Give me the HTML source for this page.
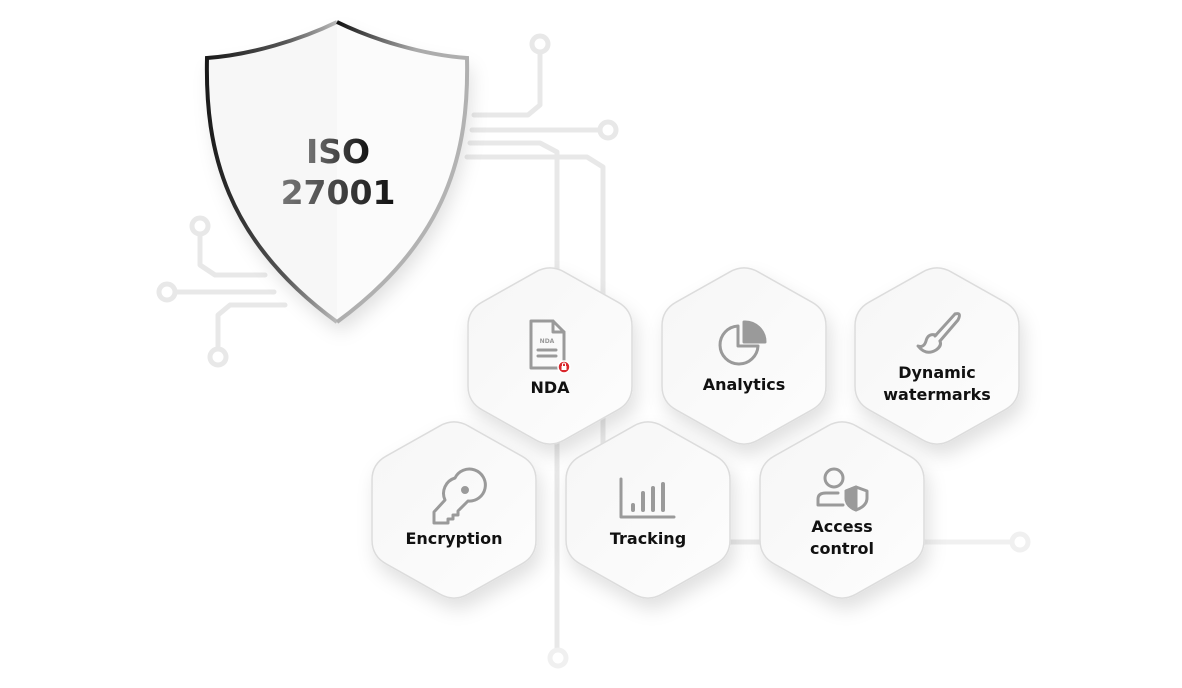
<!DOCTYPE html>
<html><head><meta charset="utf-8">
<style>
html,body{margin:0;padding:0;background:#fff;}
svg{display:block;}
text{font-family:"DejaVu Sans","Liberation Sans",sans-serif;font-weight:bold;}
</style></head>
<body>
<svg id="s" width="1182" height="688" viewBox="0 0 1182 688" xmlns="http://www.w3.org/2000/svg">
<defs>
  <linearGradient id="shL" x1="0" y1="0" x2="1" y2="0">
    <stop offset="0" stop-color="#1a1a1a"/><stop offset="0.6" stop-color="#555"/><stop offset="1" stop-color="#bbb"/>
  </linearGradient>
  <linearGradient id="shR" x1="0" y1="0" x2="1" y2="1">
    <stop offset="0" stop-color="#111"/><stop offset="0.35" stop-color="#aaa"/><stop offset="1" stop-color="#bbb"/>
  </linearGradient>
  <linearGradient id="txt" x1="0" y1="0" x2="1" y2="0">
    <stop offset="0" stop-color="#777"/><stop offset="1" stop-color="#111"/>
  </linearGradient>
  <linearGradient id="hexf" x1="0" y1="0" x2="1" y2="1">
    <stop offset="0" stop-color="#f6f6f6"/><stop offset="1" stop-color="#fdfdfd"/>
  </linearGradient>
  <filter id="sh" x="-30%" y="-30%" width="160%" height="170%">
    <feDropShadow dx="4" dy="10" stdDeviation="9" flood-color="#000" flood-opacity="0.12"/>
  </filter>
</defs>
<g fill="none" stroke="#e8e8e8" stroke-width="5" stroke-linecap="round" stroke-linejoin="round">
  <!-- top right circuits -->
  <path d="M474 115 H528 L540 105 V53"/>
  <circle cx="540" cy="44" r="8" stroke-width="5"/>
  <path d="M472 130 H598"/>
  <circle cx="608" cy="130" r="8"/>
  <path d="M470 143 H540 L557 152 V648"/>
  <circle cx="558" cy="658" r="8" stroke="#f0f0f0"/>
  <path d="M467 157 H587 L603 167 V445"/>
  <!-- left circuits -->
  <circle cx="200" cy="226" r="8"/>
  <path d="M200 235 V265 L215 275 H265"/>
  <circle cx="167" cy="292" r="8"/>
  <path d="M176 292 H274"/>
  <path d="M285 305 H230 L218 315 V348"/>
  <circle cx="218" cy="357" r="8"/>
  <!-- bottom right -->
  <path d="M720 542 H770"/>
  <path d="M915 542 H1010" stroke="#f0f0f0"/>
  <circle cx="1020" cy="542" r="8" stroke="#f0f0f0"/>
</g>
<!-- shield -->
<g filter="url(#sh)">
  <path d="M337 22 C300 40 250 55 207 58 C205 150 225 240 337 322 C449 240 469 150 467 58 C424 55 374 40 337 22 Z" fill="#f7f7f7"/>
  <path d="M337 22 C374 40 424 55 467 58 C469 150 449 240 337 322 Z" fill="#fbfbfb"/>
</g>
<path d="M337 22 C300 40 250 55 207 58 C205 150 225 240 337 322" fill="none" stroke="url(#shL)" stroke-width="4"/>
<path d="M337 22 C374 40 424 55 467 58 C469 150 449 240 337 322" fill="none" stroke="url(#shR)" stroke-width="4"/>
<text x="338" y="163" font-size="33" text-anchor="middle" fill="url(#txt)">ISO</text>
<text x="338" y="204" font-size="33" text-anchor="middle" fill="url(#txt)">27001</text>
<g id="hexes"></g>
<g id="icons" fill="none" stroke="#9a9a9a" stroke-width="3" stroke-linecap="round" stroke-linejoin="round">
  <!-- NDA -->
  <path d="M531 321 H553 L564 332 V368 H531 Z"/>
  <path d="M553 321 V332 H564"/>
  <text x="547" y="343" font-size="6" fill="#999" stroke="none" text-anchor="middle">NDA</text>
  <path d="M538 350 H556 M538 356 H556"/>
  <circle cx="564" cy="367" r="6" fill="#d9262c" stroke="#fff" stroke-width="1.5"/>
  <rect x="561.5" y="366" width="5" height="4" fill="#fff" stroke="none"/>
  <path d="M562.5 366 V364.5 A1.5 1.5 0 0 1 565.5 364.5 V366" stroke="#fff" stroke-width="1"/>
  <!-- Analytics -->
  <path d="M738 326 A19 19 0 1 0 758 346 H738 Z"/>
  <path d="M744 322 A20 20 0 0 1 765 342 H744 Z" fill="#9a9a9a"/>
  <!-- brush -->
  <path d="M955 314 L935 336 M955 314 Q962 312 958 320 L940 341"/>
  <path d="M936 335 Q928 333 926 341 Q924 348 918 346 Q926 356 936 350 Q942 346 940 341"/>
  <!-- key -->
  <path d="M455 478 A16 16 0 1 1 468 501 L458 511 V515 H453 V519 H448 V523 H434 V512 L445 500 A16 16 0 0 1 455 478 Z"/>
  <circle cx="465" cy="490" r="2.5" fill="#9a9a9a"/>
  <!-- tracking -->
  <path d="M621 479 V517 H674"/>
  <path d="M633 505 V510 M643 493 V510 M653 488 V510 M663 484 V510" stroke-width="4"/>
  <!-- access -->
  <circle cx="834" cy="478" r="9"/>
  <path d="M818 505 V499 Q818 493 826 493 H838 M818 505 H843"/>
  <path d="M856 487 L867 491 V498 Q867 506 856 510 Q846 506 846 498 V491 Z"/>
  <path d="M856 487 V510 Q846 506 846 498 V491 Z" fill="#9a9a9a"/>
</g>
<g font-size="16" fill="#111" text-anchor="middle">
  <text x="550" y="393">NDA</text>
  <text x="744" y="390">Analytics</text>
  <text x="937" y="378">Dynamic</text>
  <text x="937" y="400">watermarks</text>
  <text x="454" y="544">Encryption</text>
  <text x="648" y="544">Tracking</text>
  <text x="842" y="532">Access</text>
  <text x="842" y="554">control</text>
</g>
</svg>
<script>
var centers=[[550,356],[744,356],[937,356],[454,510],[648,510],[842,510]];
var g=document.getElementById('hexes');
function hexPath(cx,cy){
  var v=[[0,-92],[82,-46],[82,46],[0,92],[-82,46],[-82,-46]].map(function(p){return [cx+p[0],cy+p[1]];});
  var r=16,d='';
  for(var i=0;i<6;i++){
    var p=v[i],a=v[(i+5)%6],b=v[(i+1)%6];
    function pt(q){var dx=q[0]-p[0],dy=q[1]-p[1],l=Math.hypot(dx,dy);return [p[0]+dx/l*r,p[1]+dy/l*r];}
    var s=pt(a),e=pt(b);
    d+=(i==0?'M':'L')+s[0].toFixed(1)+' '+s[1].toFixed(1)+' Q'+p[0]+' '+p[1]+' '+e[0].toFixed(1)+' '+e[1].toFixed(1)+' ';
  }
  return d+'Z';
}
var ns='http://www.w3.org/2000/svg';
centers.forEach(function(c){
  var p=document.createElementNS(ns,'path');
  p.setAttribute('d',hexPath(c[0],c[1]));
  p.setAttribute('fill','url(#hexf)');
  p.setAttribute('stroke','#dcdcdc');
  p.setAttribute('stroke-width','1.5');
  p.setAttribute('filter','url(#sh)');
  g.appendChild(p);
});
</script>
</body></html>
